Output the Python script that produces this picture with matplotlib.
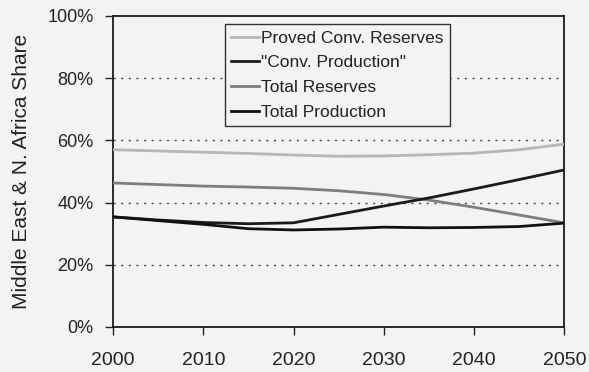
import matplotlib
matplotlib.use("Agg")
import matplotlib.pyplot as plt

plt.rcParams['font.family'] = ['Liberation Sans', 'DejaVu Sans']

# Middle East & N. Africa share of world totals (%), 5-year steps
years = [2000, 2005, 2010, 2015, 2020, 2025, 2030, 2035, 2040, 2045, 2050]
proved_conv_reserves = [57.0, 56.6, 56.2, 55.8, 55.3, 54.9, 55.0, 55.4, 55.9, 57.0, 58.8]
conv_production = [35.4, 34.4, 33.6, 33.2, 33.5, 36.2, 38.9, 41.5, 44.4, 47.4, 50.5]
total_reserves = [46.3, 45.8, 45.3, 45.0, 44.6, 43.8, 42.6, 40.8, 38.5, 36.0, 33.5]
total_production = [35.4, 34.2, 33.0, 31.6, 31.2, 31.5, 32.1, 31.9, 32.0, 32.3, 33.4]

x_ticks = [2000, 2010, 2020, 2030, 2040, 2050]
y_ticks = [0, 20, 40, 60, 80, 100]

bg = '#f3f3f3'
fig = plt.figure(figsize=(5.89, 3.72), dpi=100, facecolor=bg)
ax = fig.add_axes([0.192, 0.121, 0.766, 0.836], facecolor=bg)

# dotted reference lines
for v in y_ticks[1:-1]:
    ax.axhline(v, color='#444444', lw=1.0, ls=(0, (1.5, 4.0)), zorder=1)

ax.plot(years, proved_conv_reserves, color='#b6b6b6', lw=2.0, label='Proved Conv. Reserves', zorder=3)
ax.plot(years, conv_production, color='#1a1a1a', lw=2.0, label='"Conv. Production"', zorder=4)
ax.plot(years, total_reserves, color='#7e7e7e', lw=2.0, label='Total Reserves', zorder=3)
ax.plot(years, total_production, color='#111111', lw=2.0, label='Total Production', zorder=4)

ax.set_xlim(2000, 2050)
ax.set_ylim(0, 100)
ax.set_xticks(x_ticks)
ax.set_yticks(y_ticks)
ax.set_yticklabels([f'{v}%' for v in y_ticks])
ax.tick_params(axis='x', labelsize=14, length=6, width=1, pad=12, colors='#222222')
ax.tick_params(axis='y', labelsize=13, length=6, width=1, pad=8, colors='#222222')
for s in ax.spines.values():
    s.set_color('#1a1a1a')
    s.set_linewidth(1.3)

ax.set_ylabel('Middle East & N. Africa Share', fontsize=15, color='#222222', labelpad=12)

leg = ax.legend(loc='upper left', bbox_to_anchor=(0.248, 0.973), fontsize=12.5,
                frameon=True, fancybox=False, edgecolor='#333333', facecolor=bg,
                framealpha=1, handlelength=1.6, handletextpad=0.15,
                labelspacing=0.55, borderpad=0.35, borderaxespad=0)
leg.get_frame().set_linewidth(1.0)
for t in leg.get_texts():
    t.set_color('#222222')

fig.savefig('out.png', dpi=100, facecolor=bg)
